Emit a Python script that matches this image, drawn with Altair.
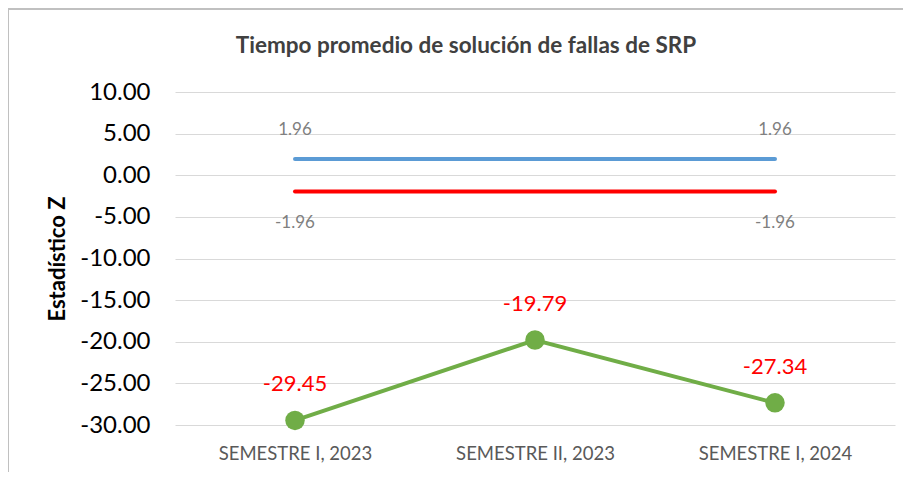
import altair as alt
import pandas as pd

categories = ["SEMESTRE I, 2023", "SEMESTRE II, 2023", "SEMESTRE I, 2024"]
z_values = [-29.45, -19.79, -27.34]
upper_limit = [1.96, 1.96, 1.96]
lower_limit = [-1.96, -1.96, -1.96]
y_ticks = [10, 5, 0, -5, -10, -15, -20, -25, -30]
limit_label_idx = [0, 2]

df = pd.DataFrame({
    "cat": categories,
    "z": z_values,
    "up": upper_limit,
    "low": lower_limit,
    "zlab": [f"{v:.2f}" for v in z_values],
    "uplab": [f"{v:.2f}" for v in upper_limit],
    "lowlab": [f"{v:.2f}" for v in lower_limit],
})
df_lab = df.iloc[limit_label_idx]

FONT = "Lato"
W, H = 720, 333

x = alt.X("cat:N", sort=categories, title=None,
          scale=alt.Scale(paddingInner=0, paddingOuter=0),
          axis=alt.Axis(labelAngle=0, labelFont=FONT, labelFontSize=18.5,
                        labelColor="#595959", domain=False, ticks=False,
                        labelPadding=19, grid=False))
yscale = alt.Scale(domain=[-30, 10], nice=False, zero=False)
y_axis = alt.Axis(values=y_ticks, labelExpr="replace(format(datum.value, '.2f'), '\u2212', '-')",
                  labelFont=FONT, labelFontSize=24, labelColor="#000000",
                  domain=False, ticks=False, labelPadding=25,
                  gridColor="#d9d9d9", gridWidth=1,
                  title="Estadístico Z", titleFont=FONT, titleFontSize=22,
                  titleFontWeight="bold", titleColor="#000000", titlePadding=10)

base = alt.Chart(df)

frame = alt.Chart(df.iloc[[0]]).mark_rect(fill=None, stroke="#c0c0c0", strokeWidth=2).encode(
    x=alt.value(-167), x2=alt.value(W + 200), y=alt.value(-83), y2=alt.value(H + 200)
)

upper = base.mark_line(color="#5B9BD5", strokeWidth=4, strokeCap="round").encode(
    x=x, y=alt.Y("up:Q", scale=yscale, axis=y_axis))
lower = base.mark_line(color="#FF0000", strokeWidth=4, strokeCap="round").encode(
    x=x, y=alt.Y("low:Q", scale=yscale))
zline = base.mark_line(color="#70AD47", strokeWidth=4).encode(
    x=x, y=alt.Y("z:Q", scale=yscale))
zpts = base.mark_point(filled=True, color="#70AD47", size=380, opacity=1).encode(
    x=x, y=alt.Y("z:Q", scale=yscale))
ztxt = base.mark_text(color="#FF0000", font=FONT, fontSize=22, dy=-36).encode(
    x=x, y=alt.Y("z:Q", scale=yscale), text="zlab:N")
uptxt = alt.Chart(df_lab).mark_text(color="#808080", font=FONT, fontSize=17, dy=-29).encode(
    x=x, y=alt.Y("up:Q", scale=yscale), text="uplab:N")
lowtxt = alt.Chart(df_lab).mark_text(color="#808080", font=FONT, fontSize=17, dy=31).encode(
    x=x, y=alt.Y("low:Q", scale=yscale), text="lowlab:N")

chart = alt.layer(frame, upper, lower, zline, zpts, ztxt, uptxt, lowtxt).properties(
    width=W, height=H,
    background="white",
    title=alt.TitleParams("Tiempo promedio de solución de fallas de SRP",
                          font=FONT, fontSize=22.5, fontWeight="bold", color="#404040",
                          anchor="middle", dx=-69, offset=-49),
    autosize=alt.AutoSizeParams(type="none"),
    padding={"left": 167, "top": 84, "right": 8, "bottom": 47},
).configure_view(strokeWidth=0, stroke="transparent")

chart.save("out.html", embed_options={"renderer": "svg", "actions": False})
